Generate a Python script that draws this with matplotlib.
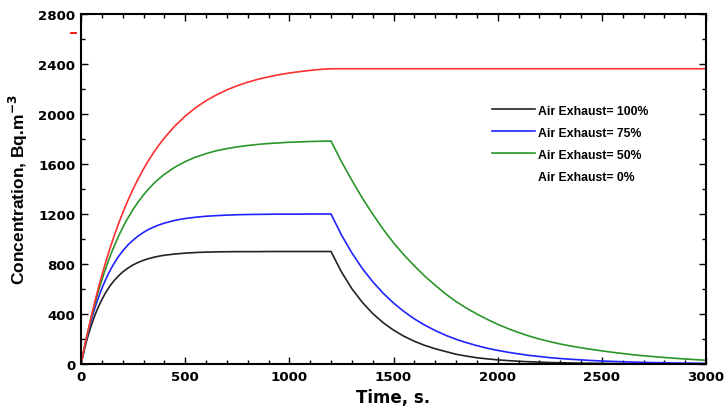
import matplotlib
matplotlib.use("Agg")
import matplotlib.pyplot as plt
from matplotlib.lines import Line2D
from matplotlib.ticker import MultipleLocator

# Build-up phase (all scenarios share the same sampling times, s)
t_rise = [0, 10, 20, 30, 40, 50, 60, 70, 80, 90, 100, 115, 130, 145, 160,
          180, 200, 225, 250, 275, 300, 325, 350, 375, 400, 450, 500, 550,
          600, 650, 700, 750, 800, 850, 900, 950, 1000, 1050, 1100, 1150,
          1200]
# Decay phase after the source is stopped (s)
t_decay = [1250, 1300, 1350, 1400, 1450, 1500, 1550, 1600, 1650, 1700,
           1750, 1800, 1850, 1900, 1950, 2000, 2050, 2100, 2150, 2200,
           2250, 2300, 2350, 2400, 2450, 2500, 2550, 2600, 2650, 2700,
           2750, 2800, 2850, 2900, 2950, 3000]

# Radon concentration, Bq/m^3
c100_rise = [0, 73, 141, 203, 259, 312, 360, 404, 444, 481,
             515, 561, 602, 638, 669, 705, 736, 767, 793, 813,
             830, 843, 854, 863, 870, 880, 887, 892, 895, 897,
             898, 899, 899, 899, 900, 900, 900, 900, 900, 900, 900]
c100_decay = [737, 603, 494, 404, 331, 271, 222, 182, 149, 122,
              100, 78, 63, 50, 41, 33, 27, 22, 18, 15,
              12, 10, 8, 7, 6, 5, 4, 3, 3, 2,
              2, 1, 1, 1, 1, 1]

c75_rise = [0, 81, 157, 227, 293, 354, 412, 465, 515, 561,
            604, 663, 717, 765, 808, 860, 904, 952, 991, 1025,
            1053, 1077, 1096, 1113, 1127, 1149, 1164, 1174, 1182, 1187,
            1191, 1194, 1196, 1197, 1198, 1199, 1199, 1199, 1200, 1200, 1200]
c75_decay = [1033, 889, 765, 659, 567, 488, 420, 361, 311, 268,
             230, 198, 171, 147, 126, 109, 94, 81, 69, 60,
             51, 44, 38, 33, 28, 24, 21, 18, 15, 13,
             11, 10, 8, 7, 6, 5]

c50_rise = [0, 82, 161, 235, 307, 375, 440, 502, 561, 617,
            671, 748, 818, 885, 946, 1022, 1091, 1168, 1237, 1298,
            1353, 1401, 1445, 1483, 1517, 1574, 1619, 1655, 1683, 1706,
            1723, 1737, 1748, 1757, 1764, 1769, 1774, 1777, 1780, 1782, 1784]
c50_decay = [1620, 1470, 1328, 1200, 1079, 970, 873, 785, 703, 630,
             561, 500, 447, 400, 357, 318, 283, 252, 224, 200,
             179, 160, 144, 130, 117, 105, 94, 84, 74, 66,
             59, 52, 46, 40, 35, 30]

c0_rise = [0, 83, 162, 239, 313, 385, 455, 522, 586, 648,
           709, 795, 877, 955, 1029, 1122, 1208, 1308, 1399, 1483,
           1560, 1631, 1695, 1754, 1808, 1903, 1983, 2050, 2106, 2153,
           2193, 2226, 2254, 2278, 2297, 2314, 2328, 2339, 2349, 2357, 2362]
t0_hold = [3000]
c0_hold = [2362]

labels = ["Air Exhaust= 100%", "Air Exhaust= 75%", "Air Exhaust= 50%",
          "Air Exhaust= 0%"]
colors = ["#222222", "#2222ff", "#2a962a", "#ff3030"]

fig = plt.figure(figsize=(7.25, 4.10), dpi=100)
ax = fig.add_axes([81 / 725, 45 / 410, 625 / 725, 350 / 410])

lw = 1.2
l100, = ax.plot(t_rise + t_decay, c100_rise + c100_decay, color=colors[0], lw=lw)
l75, = ax.plot(t_rise + t_decay, c75_rise + c75_decay, color=colors[1], lw=lw)
l50, = ax.plot(t_rise + t_decay, c50_rise + c50_decay, color=colors[2], lw=lw)
l0, = ax.plot(t_rise + t0_hold, c0_rise + c0_hold, color=colors[3], lw=lw)

ax.set_xlim(0, 3000)
ax.set_ylim(0, 2800)
ax.xaxis.set_major_locator(MultipleLocator(500))
ax.xaxis.set_minor_locator(MultipleLocator(100))
ax.yaxis.set_major_locator(MultipleLocator(400))
ax.yaxis.set_minor_locator(MultipleLocator(200))

ax.tick_params(which="both", direction="in", top=True, right=True,
               width=1.0, color="black")
ax.tick_params(which="major", length=5, pad=4)
ax.tick_params(which="minor", length=3)
for spine in ax.spines.values():
    spine.set_linewidth(1.5)

for lab in ax.get_xticklabels() + ax.get_yticklabels():
    lab.set_fontfamily("DejaVu Sans")
    lab.set_fontweight("bold")
    lab.set_fontsize(9.6)

ax.set_xlabel("Time, s.", family="DejaVu Sans", weight="bold", size=12,
              labelpad=4)
ax.set_ylabel("Concentration, Bq.m$^{\\mathbf{-3}}$", family="Liberation Sans",
              weight="bold", size=12.5, labelpad=6)

leg = ax.legend([l100, l75, l50, l0], labels, loc="upper left",
                bbox_to_anchor=(0.6576, 0.741), frameon=False,
                prop=dict(family="Liberation Sans", weight="bold", size=8.8),
                handlelength=3.5, handletextpad=0.3, labelspacing=0.82,
                borderpad=0, borderaxespad=0)
leg.get_lines()[3].set_visible(False)

# stray red marker left of the y axis
fig.add_artist(Line2D([71 / 725, 76 / 725], [1 - 34 / 410, 1 - 34 / 410],
                      color="red", lw=1.3))

fig.savefig("out.png", dpi=100)
